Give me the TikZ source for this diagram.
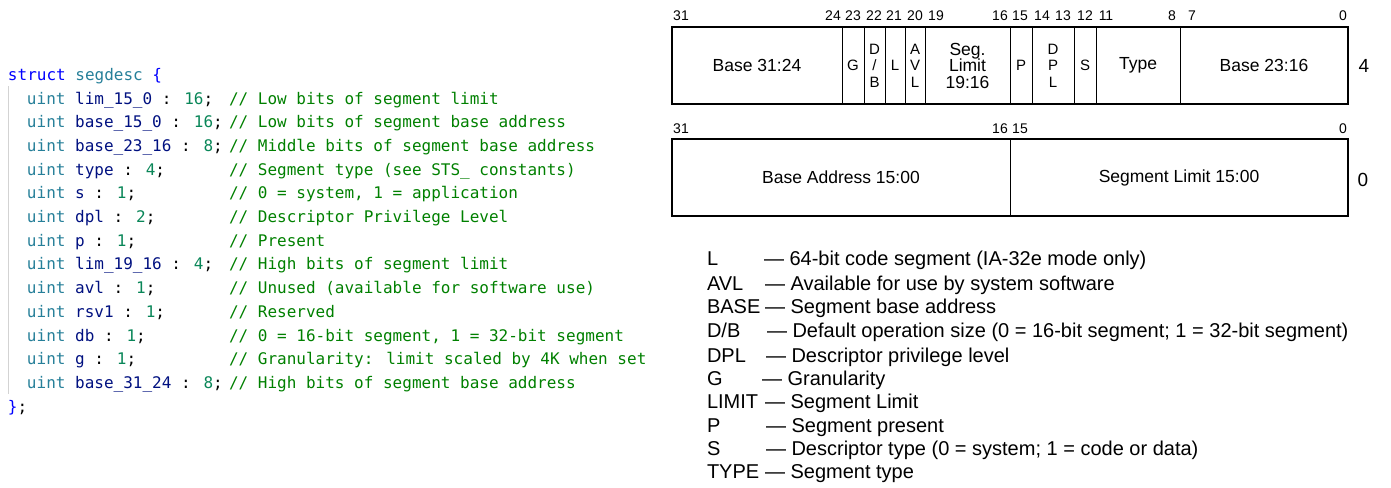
\documentclass[tikz,border=0pt]{standalone}
\usepackage{fontspec}
\setmainfont{Liberation Sans}
\newfontfamily\codefont{DejaVu Sans Mono}
\definecolor{kwblue}{HTML}{0000FF}
\definecolor{tyteal}{HTML}{267F99}
\definecolor{fldnavy}{HTML}{001080}
\definecolor{numgreen}{HTML}{098658}
\definecolor{cmtgreen}{HTML}{008000}
\definecolor{guidegray}{HTML}{D3D3D3}
\newcommand{\decl}[2]{{\color{tyteal}uint} {\color{fldnavy}#1} : {\color{numgreen}#2};}
\newcommand{\bitnums}[2]{%
  \foreach \b/\px in {#2}
    \node[font=\fontsize{14}{14}\selectfont] (n#1-\b) at (\px,#1) {\b};}

\begin{document}
\begin{tikzpicture}[x=1pt, y=-1pt, inner sep=0pt, outer sep=0pt,
    code/.style={font=\codefont\fontsize{16}{16}\selectfont, anchor=base west},
    cell/.style={draw, line width=1pt, minimum height=77pt, anchor=north west, align=center},
    leg/.style={font=\fontsize{20}{20}\selectfont, anchor=base west}]
  \useasboundingbox (0,0) rectangle (1391,487);
  % struct
  \draw[guidegray, line width=1pt] (8,86) -- (8,394);
  \node[code] (head) at (8,80) {{\color{kwblue}struct} {\color{tyteal}segdesc} {\color{kwblue}\{}};
  \foreach \n/\w/\c [count=\i] in {lim\_15\_0/16/{Low bits of segment limit},
      base\_15\_0/16/{Low bits of segment base address},
      base\_23\_16/8/{Middle bits of segment base address},
      type/4/{Segment type (see STS\_ constants)},
      s/1/{0 = system, 1 = application},
      dpl/2/{Descriptor Privilege Level},
      p/1/Present,
      lim\_19\_16/4/{High bits of segment limit},
      avl/1/{Unused (available for software use)},
      rsv1/1/Reserved,
      db/1/{0 = 16-bit segment, 1 = 32-bit segment},
      g/1/{Granularity: limit scaled by 4K when set},
      base\_31\_24/8/{High bits of segment base address}}
    {\node[code] (decl\i) at (27,{104+(\i-1)*23.7}) {\decl{\n}{\w}};
     \node[code, text=cmtgreen] (cmt\i) at (229,{104+(\i-1)*23.7}) {// \c};}
  \node[code] (tail) at (8,412) {{\color{kwblue}\}};};
  % descriptor, upper word
  \bitnums{16}{31/681, 24/833, 23/853, 22/874, 21/894, 20/915, 19/936, 16/1000,
    15/1020, 14/1042, 13/1063, 12/1085, 11/1106, 8/1172, 7/1192, 0/1343}
  \foreach \l/\r/\txt/\nm/\fs in {672/842/{Base 31:24}/bhi/17.5, 842/864/G/g/15,
      864/885/{D\\/\\B}/db/15, 885/905/L/l/15, 905/925/{A\\V\\L}/avl/15,
      925/1010/{Seg.\\Limit\\19:16}/lim/17.5, 1010/1032/P/p/15, 1032/1074/{D\\P\\L}/dpl/15,
      1074/1096/S/s/15, 1096/1180/Type/type/17.5, 1180/1348/{Base 23:16}/bmid/17.5}
    \node[cell, font=\fontsize{\fs}{16.5}\selectfont, minimum width={(\r-\l)*1pt}] (\nm) at (\l,27) {\txt};
  \draw[line width=2pt] (bhi.north west) rectangle (bmid.south east);
  \node[font=\fontsize{19}{19}\selectfont] (row4) at (1364,66) {4};
  % descriptor, lower word
  \bitnums{129}{31/681, 16/1000, 15/1020, 0/1343}
  \node[cell, font=\fontsize{17.5}{17.5}\selectfont, minimum width=338pt] (lobase) at (672,139) {Base Address 15:00};
  \node[cell, font=\fontsize{17.5}{17.5}\selectfont, minimum width=338pt] (lolim) at (lobase.north east) {Segment Limit 15:00};
  \draw[line width=2pt] (lobase.north west) rectangle (lolim.south east);
  \node[font=\fontsize{19}{19}\selectfont] (row0) at (1363,180) {0};
  % legend
  \foreach \ab/\y/\dx/\txt in {L/265/764/{64-bit code segment (IA-32e mode only)},
      AVL/290/765/{Available for use by system software},
      BASE/313/765/{Segment base address},
      {D/B}/337/767/{Default operation size (0 = 16-bit segment; 1 = 32-bit segment)},
      DPL/362/766/{Descriptor privilege level},
      G/385/762/Granularity,
      LIMIT/408/765/{Segment Limit},
      P/432/766/{Segment present},
      S/455/766/{Descriptor type (0 = system; 1 = code or data)},
      TYPE/478/765/{Segment type}}
    {\node[leg] (ab\y) at (707,\y) {\ab};
     \node[leg] (de\y) at (\dx,\y) {— \txt};}
\end{tikzpicture}
\end{document}
